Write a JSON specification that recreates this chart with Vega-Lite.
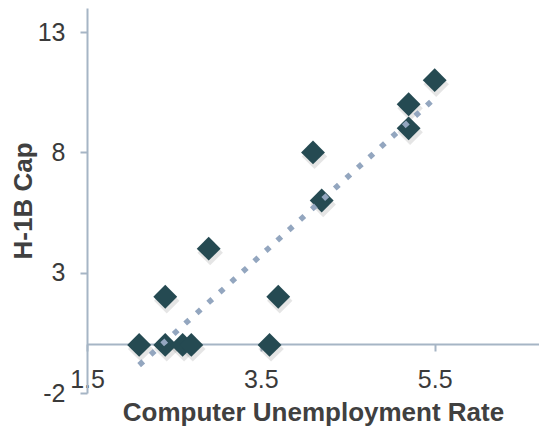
{
  "$schema": "https://vega.github.io/schema/vega-lite/v6.json",
  "width": 452,
  "height": 385,
  "autosize": "none",
  "padding": {"left": 87, "top": 8, "right": 0, "bottom": 35},
  "background": "white",
  "config": {"view": {"stroke": null}, "font": "Liberation Sans"},
  "data": {
    "values": [
      {"rate": 2.1, "h1b": 0},
      {"rate": 2.4, "h1b": 0},
      {"rate": 2.4, "h1b": 2},
      {"rate": 2.6, "h1b": 0},
      {"rate": 2.7, "h1b": 0},
      {"rate": 2.9, "h1b": 4},
      {"rate": 3.6, "h1b": 0},
      {"rate": 3.7, "h1b": 2},
      {"rate": 4.1, "h1b": 8},
      {"rate": 4.2, "h1b": 6},
      {"rate": 5.2, "h1b": 9},
      {"rate": 5.2, "h1b": 10},
      {"rate": 5.5, "h1b": 11}
    ]
  },
  "encoding": {
    "x": {
      "field": "rate",
      "type": "quantitative",
      "scale": {"domain": [1.5, 6.7], "nice": false, "zero": false},
      "axis": {
        "title": "Computer Unemployment Rate",
        "values": [1.5, 3.5, 5.5],
        "format": ".1f",
        "offset": -49,
        "grid": false,
        "domainColor": "#a6b5c5",
        "domainWidth": 2,
        "tickColor": "#a6b5c5",
        "tickWidth": 2,
        "tickSize": 7,
        "labelFontSize": 25,
        "labelColor": "#3a3a3a",
        "labelPadding": 16,
        "labelFlush": false,
        "titleFontSize": 26,
        "titleFontWeight": "bold",
        "titleColor": "#404040",
        "titlePadding": 7
      }
    },
    "y": {
      "field": "h1b",
      "type": "quantitative",
      "scale": {"domain": [-2, 14], "nice": false, "zero": false},
      "axis": {
        "title": "H-1B Cap",
        "values": [-2, 3, 8, 13],
        "labelExpr": "'' + datum.value",
        "grid": false,
        "domainColor": "#a6b5c5",
        "domainWidth": 2,
        "tickColor": "#a6b5c5",
        "tickWidth": 2,
        "tickSize": 7,
        "labelFontSize": 25,
        "labelColor": "#3a3a3a",
        "labelPadding": 15,
        "labelFlush": false,
        "titleFontSize": 26,
        "titleFontWeight": "bold",
        "titleColor": "#404040",
        "titlePadding": 1
      }
    }
  },
  "layer": [
    {
      "mark": {"type": "point", "shape": "diamond", "filled": true, "size": 650, "color": "#000000", "opacity": 0.1, "xOffset": 1.5, "yOffset": 4}
    },
    {
      "mark": {"type": "point", "shape": "diamond", "filled": true, "size": 570, "color": "#254a52", "opacity": 1}
    },
    {
      "transform": [{"regression": "h1b", "on": "rate"}],
      "mark": {"type": "line", "color": "#93a6bf", "strokeWidth": 5.5, "strokeDash": [5.5, 10], "strokeCap": "butt"}
    }
  ]
}
